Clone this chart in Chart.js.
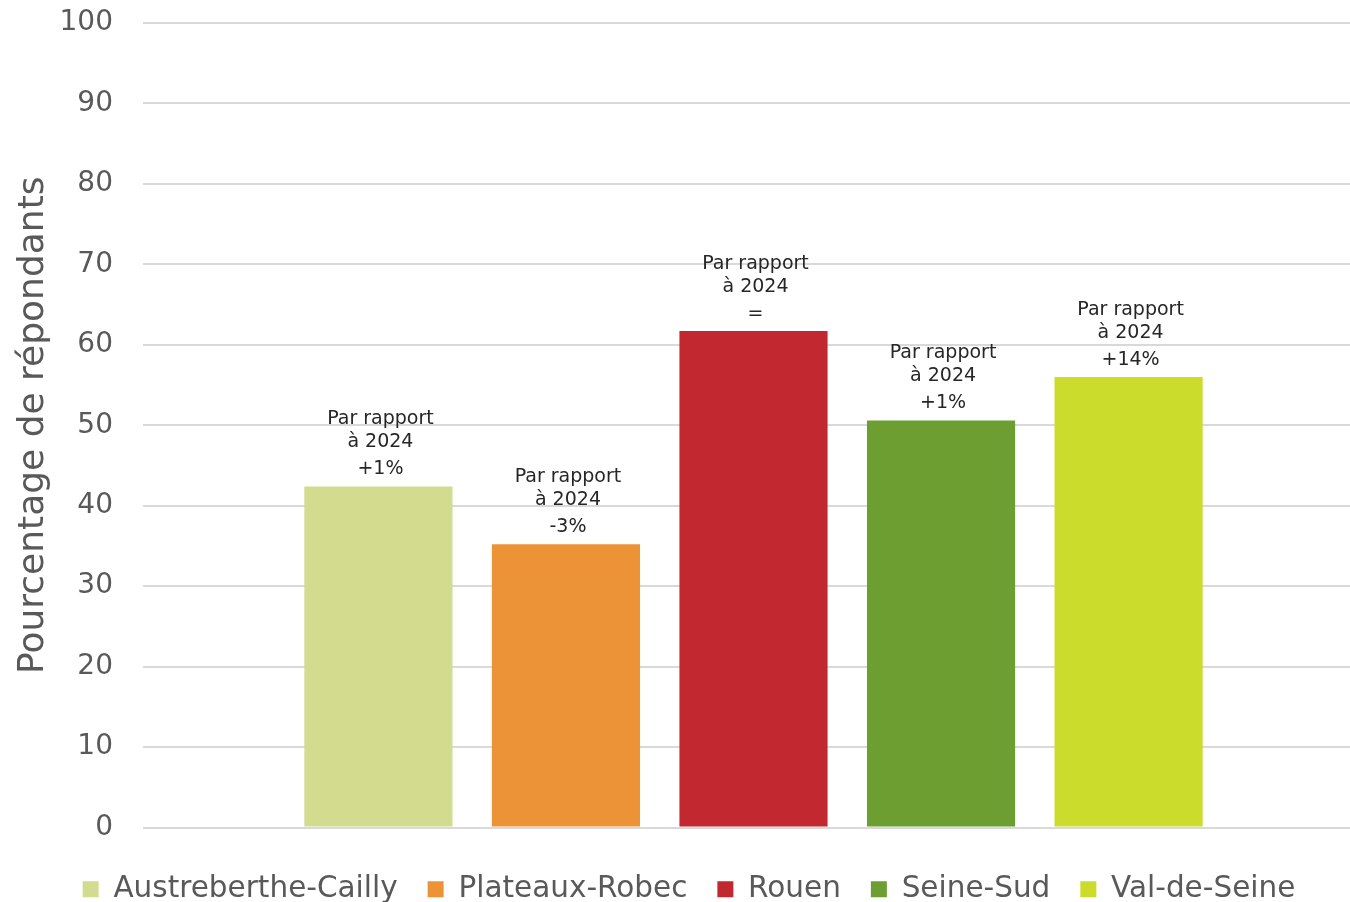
<!DOCTYPE html>
<html>
<head>
<meta charset="utf-8">
<script src="https://cdn.jsdelivr.net/npm/chart.js@4.4.1/dist/chart.umd.min.js"></script>
<style>
html,body{margin:0;padding:0;background:#fff;}
#wrap{width:1350px;height:902px;}
</style>
</head>
<body>
<div id="wrap"><canvas id="c" width="1350" height="902"></canvas></div>
<script>
const categories = [""];
const seriesNames = ["Austreberthe-Cailly", "Plateaux-Robec", "Rouen", "Seine-Sud", "Val-de-Seine"];
const seriesValues = [42.4, 35.2, 61.7, 50.6, 56.0];
const seriesColors = ["#D3DB8F", "#EB9336", "#C12830", "#6D9E31", "#CBDC2C"];
const changeLabels = ["+1%", "-3%", "=", "+1%", "+14%"];
const labelPrefix = ["Par rapport", "à 2024"];
const yTicks = [0, 10, 20, 30, 40, 50, 60, 70, 80, 90, 100];

const FONT = "'DejaVu Sans', sans-serif";

// the reference plot area runs past the right edge of the picture
const adjustLayout = {
  id: 'adjustLayout',
  afterLayout(chart) {
    const x = chart.scales.x;
    x.right += 14;
    x.width += 14;
    x.configure();
    if (chart.legend) chart.legend.left += 16;
  }
};

const barLabels = {
  id: 'barLabels',
  afterDatasetsDraw(chart) {
    const ctx = chart.ctx;
    ctx.save();
    ctx.font = "19px " + FONT;
    ctx.fillStyle = "#262626";
    ctx.textAlign = "center";
    ctx.textBaseline = "middle";
    chart.data.datasets.forEach((ds, i) => {
      const meta = chart.getDatasetMeta(i);
      if (meta.hidden) return;
      const el = meta.data[0];
      const x = el.x + 2;
      const y = el.y;
      ctx.fillText(labelPrefix[0], x, y - 67);
      ctx.fillText(labelPrefix[1], x, y - 44);
      ctx.fillText(changeLabels[i], x, y - 17);
    });
    ctx.restore();
  }
};

new Chart(document.getElementById('c'), {
  type: 'bar',
  data: {
    labels: categories,
    datasets: seriesNames.map((n, i) => ({
      label: n,
      data: [seriesValues[i]],
      backgroundColor: seriesColors[i],
      borderWidth: 0,
      categoryPercentage: 0.768,
      barPercentage: 0.79
    }))
  },
  options: {
    responsive: false,
    animation: false,
    devicePixelRatio: 1,
    layout: { padding: { top: 23, right: 0, bottom: -12, left: 12 } },
    plugins: {
      legend: {
        position: 'bottom',
        labels: {
          font: { family: FONT, size: 29.5 },
          color: '#595959',
          boxWidth: 16,
          boxHeight: 16,
          padding: 30
        }
      },
      tooltip: { enabled: false }
    },
    scales: {
      x: {
        ticks: { display: false },
        grid: { display: false },
        border: { display: false },
        afterFit(scale) { scale.height = 17; }
      },
      y: {
        min: 0,
        max: 100,
        afterBuildTicks(axis) { axis.ticks = yTicks.map(v => ({ value: v })); },
        afterFit(scale) { scale.width = 131; scale.paddingTop = 0; scale.paddingBottom = 0; },
        ticks: {
          font: { family: FONT, size: 28 },
          color: '#595959',
          padding: 30
        },
        grid: { color: '#d9d9d9', lineWidth: 2, drawTicks: false },
        border: { display: false },
        title: {
          display: true,
          text: 'Pourcentage de répondants',
          font: { family: FONT, size: 36 },
          color: '#595959',
          padding: 0
        }
      }
    }
  },
  plugins: [adjustLayout, barLabels]
});
</script>
</body>
</html>
